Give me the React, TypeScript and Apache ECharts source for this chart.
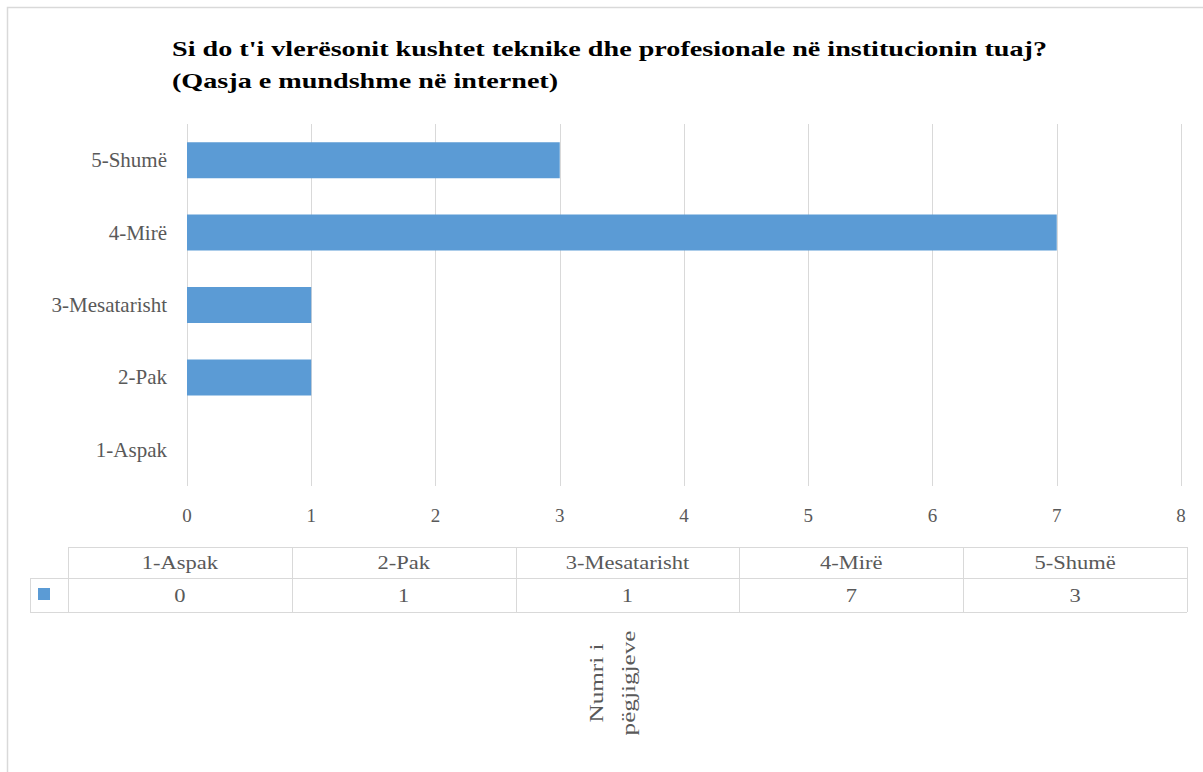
import React, { useEffect, useRef } from "react";
import * as echarts from "echarts";

const categories = ["1-Aspak", "2-Pak", "3-Mesatarisht", "4-Mirë", "5-Shumë"];
const values = [0, 1, 1, 7, 3];
const titleLines = [
  "Si do t'i vlerësonit kushtet teknike dhe profesionale në institucionin tuaj?",
  "(Qasja e mundshme në internet)",
];
const axisTitleLines = ["Numri i", "pëgjigjeve"];

const W = 1203;
const H = 772;
const SERIF = "Liberation Serif";
const TXT = "#595959";
const GRID = "#d9d9d9";
const BAR = "#5b9bd5";

export default function App() {
  const ref = useRef<HTMLDivElement>(null);
  useEffect(() => {
    if (!ref.current) return;
    const chart = echarts.init(ref.current, undefined, { renderer: "svg" });

    const tLeft = 30;
    const keyRight = 68;
    const tRight = 1187;
    const y0 = 547;
    const y1 = 578;
    const y2 = 612;
    const colW = (tRight - keyRight) / categories.length;
    const g: any[] = [];
    const ln = (x1: number, ya: number, x2: number, yb: number) =>
      g.push({
        type: "line",
        shape: { x1, y1: ya, x2, y2: yb },
        style: { stroke: GRID, lineWidth: 1 },
        silent: true,
      });
    ln(keyRight, y0 + 0.5, tRight, y0 + 0.5);
    ln(tLeft, y1 + 0.5, tRight, y1 + 0.5);
    ln(tLeft, y2 + 0.5, tRight, y2 + 0.5);
    ln(tLeft + 0.5, y1, tLeft + 0.5, y2);
    for (let i = 0; i <= categories.length; i++) {
      const x = Math.round(keyRight + i * colW) + 0.5;
      ln(x, y0, x, y2);
    }
    const txt = (x: number, y: number, text: string, size: number, extra: any = {}) => ({
      type: "text",
      x,
      y,
      ...extra,
      style: {
        text,
        fill: TXT,
        fontFamily: SERIF,
        fontSize: size,
        align: "center",
        verticalAlign: "middle",
      },
    });
    categories.forEach((c, i) => {
      const cx = keyRight + (i + 0.5) * colW;
      g.push(txt(cx, (y0 + y1) / 2, c, 18, { scaleX: 1.25 }));
      g.push(txt(cx, (y1 + y2) / 2 + 1, String(values[i]), 18, { scaleX: 1.25 }));
    });
    g.push({
      type: "rect",
      shape: { x: 38, y: 588, width: 12, height: 12 },
      style: { fill: BAR },
    });
    axisTitleLines.forEach((t, i) => {
      g.push(txt(597 + i * 32, 683, t, 18, { rotation: Math.PI / 2, scaleX: 1.4 }));
    });
    g.push({
      type: "text",
      x: 172,
      y: 32,
      scaleX: 1.28,
      style: {
        text: titleLines.join("\n"),
        fill: "#000000",
        fontFamily: SERIF,
        fontWeight: "bold",
        fontSize: 22,
        lineHeight: 32,
        align: "left",
        verticalAlign: "top",
      },
    });
    g.push({
      type: "rect",
      shape: { x: 7.5, y: 7.5, width: W, height: H },
      style: { fill: "none", stroke: GRID, lineWidth: 1.5 },
      silent: true,
    });

    chart.setOption({
      animation: false,
      backgroundColor: "#ffffff",
      grid: { left: 187, right: W - 1181, top: 124, bottom: H - 486, containLabel: false },
      xAxis: {
        type: "value",
        min: 0,
        max: 8,
        interval: 1,
        axisLine: { show: false },
        axisTick: { show: false },
        splitLine: { show: true, lineStyle: { color: GRID, width: 1 } },
        axisLabel: { color: TXT, fontFamily: SERIF, fontSize: 19, margin: 20 },
      },
      yAxis: {
        type: "category",
        data: categories,
        axisLine: { show: false },
        axisTick: { show: false },
        axisLabel: { color: TXT, fontFamily: SERIF, fontSize: 21, margin: 20 },
      },
      series: [
        {
          type: "bar",
          data: values,
          barWidth: 36,
          itemStyle: { color: BAR },
        },
      ],
      graphic: g,
    });
    return () => chart.dispose();
  }, []);
  return (
    <div
      ref={ref}
      style={{ position: "fixed", left: 0, top: 0, width: W, height: H }}
    />
  );
}
